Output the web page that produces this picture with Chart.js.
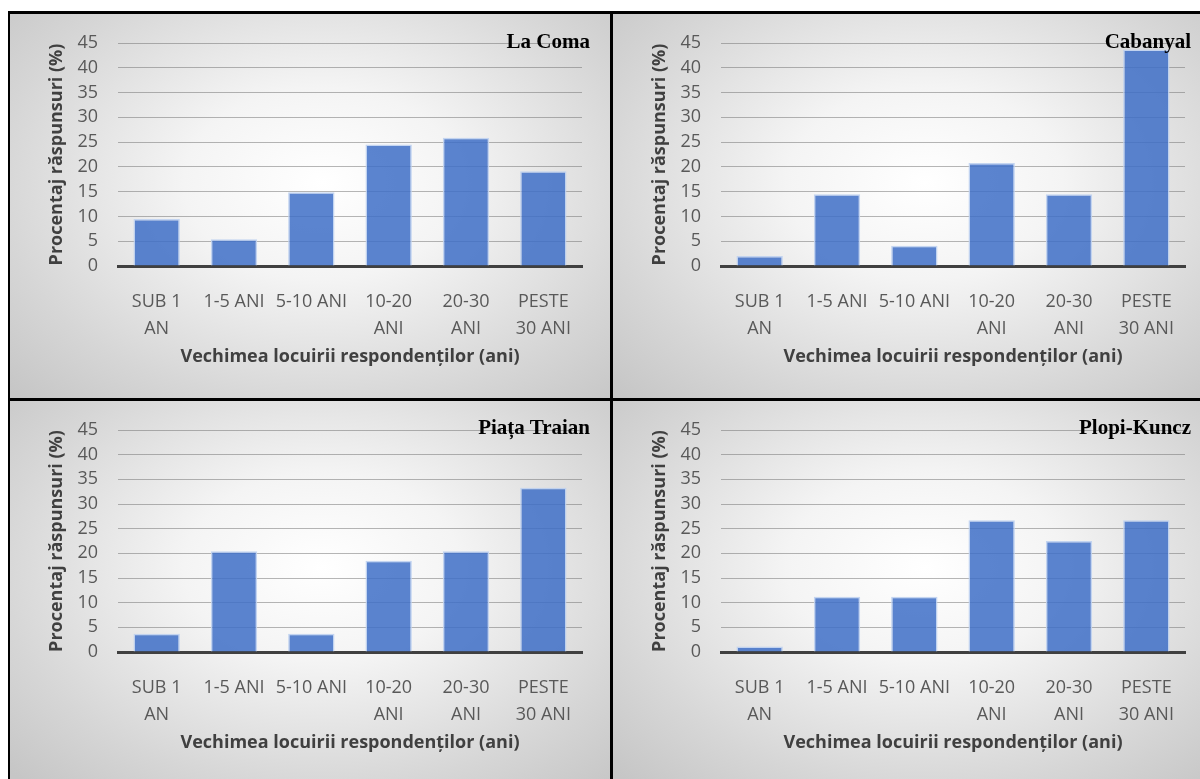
<!DOCTYPE html>
<html>
<head>
<meta charset="utf-8">
<script src="https://cdn.jsdelivr.net/npm/chart.js@4"></script>
<style>
  html, body { margin: 0; padding: 0; background: #fff; overflow: hidden; width: 1200px; height: 779px; }
  #frame { position: absolute; left: 8px; top: 11px; width: 1230px; height: 800px; background: #000; }
  .panel {
    position: absolute; width: 600px; overflow: hidden;
    background: radial-gradient(ellipse 72% 78% at 52% 44%, #ffffff 0%, #f4f4f4 32%, #d6d6d6 75%, #c6c6c6 100%);
  }
  .panel canvas { position: absolute; left: 0; top: 0; }
  .ptitle {
    position: absolute; right: 20px; line-height: 21px; white-space: nowrap;
    font: bold 21px "Liberation Serif", "Times New Roman", serif; color: #000;
  }
</style>
</head>
<body>
<div id="frame">
  <div class="panel" style="left:2px;top:3px;height:384px;">
    <canvas id="c1" width="600" height="384"></canvas>
    <div class="ptitle" style="top:15px;">La Coma</div>
  </div>
  <div class="panel" style="left:605px;top:3px;height:384px;">
    <canvas id="c2" width="600" height="384"></canvas>
    <div class="ptitle" style="top:15px;right:22px;">Cabanyal</div>
  </div>
  <div class="panel" style="left:2px;top:390px;height:378px;">
    <canvas id="c3" width="600" height="378"></canvas>
    <div class="ptitle" style="top:14px;">Piața Traian</div>
  </div>
  <div class="panel" style="left:605px;top:390px;height:378px;">
    <canvas id="c4" width="600" height="378"></canvas>
    <div class="ptitle" style="top:14px;right:22px;">Plopi-Kuncz</div>
  </div>
</div>
<script>
const categories = [["SUB 1", "AN"], "1-5 ANI", "5-10 ANI", ["10-20", "ANI"], ["20-30", "ANI"], ["PESTE", "30 ANI"]];
const laComa = [9.5, 5.4, 14.9, 24.5, 25.9, 19.1];
const cabanyal = [2.0, 14.5, 4.1, 20.8, 14.5, 43.7];
const piataTraian = [3.7, 20.4, 3.7, 18.5, 20.4, 33.3];
const plopiKuncz = [1.1, 11.2, 11.2, 26.7, 22.5, 26.7];
const yMax = 45;
const yStep = 5;
const yTitle = "Procentaj răspunsuri (%)";
const xTitle = "Vechimea locuirii respondenților (ani)";

function makeChart(id, values, padTop, axisH) {
  const ctx = document.getElementById(id).getContext("2d");
  return new Chart(ctx, {
    type: "bar",
    data: {
      labels: categories,
      datasets: [{
        data: values,
        backgroundColor: "rgba(62, 110, 199, 0.85)",
        borderColor: "rgba(190, 208, 240, 0.9)",
        borderWidth: 1.5,
        barPercentage: 0.6,
        categoryPercentage: 1.0
      }]
    },
    options: {
      responsive: false,
      animation: false,
      layout: { padding: { top: padTop, right: 28, left: 0, bottom: 0 } },
      plugins: { legend: { display: false }, tooltip: { enabled: false } },
      scales: {
        x: {
          afterFit: s => { s.height = axisH; },
          grid: { display: false },
          border: { display: true, color: "#404040", width: 3 },
          ticks: {
            autoSkip: false, maxRotation: 0, padding: 14,
            color: "#595959",
            font: { family: "Open Sans", size: 18, lineHeight: 1.5 }
          },
          title: {
            display: true, text: xTitle, color: "#404040",
            padding: { top: 0, bottom: axisH - 102 },
            font: { family: "Open Sans", size: 18, weight: "bold" }
          }
        },
        y: {
          min: 0, max: yMax,
          afterFit: s => { s.width = 108; },
          grid: { color: "rgba(110, 110, 110, 0.5)", lineWidth: 1, drawTicks: false },
          border: { display: false },
          ticks: {
            stepSize: yStep, autoSkip: false, padding: 20, color: "#595959",
            font: { family: "Open Sans", size: 18, lineHeight: 1.0 }
          },
          title: {
            display: true, text: yTitle, color: "#404040",
            padding: { top: 36, bottom: 0 },
            font: { family: "Open Sans", size: 18, weight: "bold" }
          }
        }
      }
    }
  });
}

makeChart("c1", laComa, 28, 132);
makeChart("c2", cabanyal, 28, 132);
makeChart("c3", piataTraian, 27, 127);
makeChart("c4", plopiKuncz, 27, 127);
</script>
</body>
</html>
